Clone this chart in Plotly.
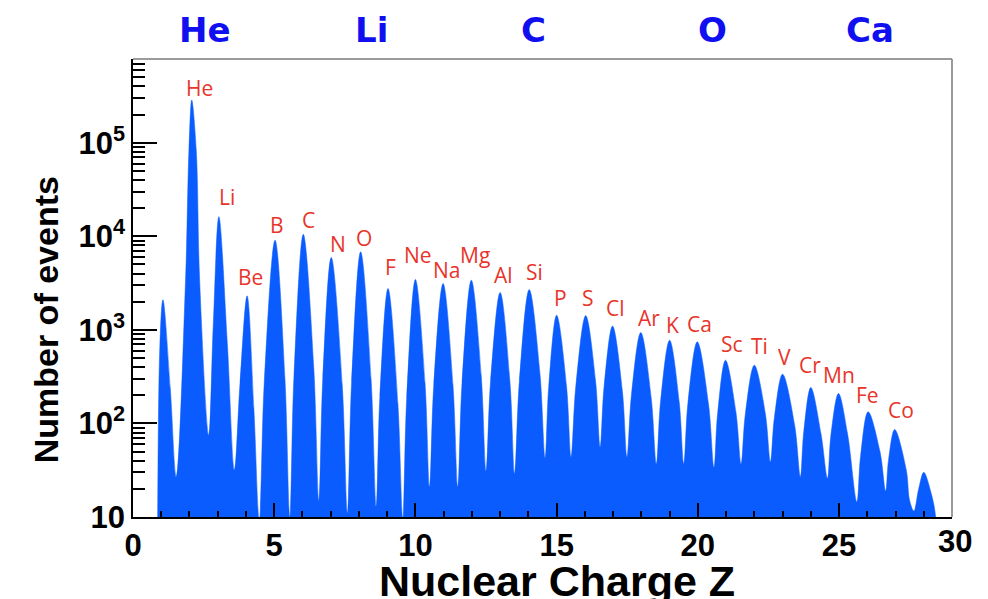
import math
import plotly.graph_objects as go

# ---- histogram outline (Z, number of events) ----
charge_z = [0.86, 0.95, 1.06, 1.32, 1.53,
            1.86, 1.98, 2.08, 2.24, 2.36, 2.68,
            2.84, 3.04, 3.34, 3.59,
            3.79, 4.04, 4.28, 4.47,
            4.65, 5.03, 5.38, 5.55,
            5.70, 6.03, 6.40, 6.58,
            6.72, 7.02, 7.41, 7.59,
            7.74, 8.06, 8.43, 8.61,
            8.74, 9.03, 9.38, 9.55,
            9.69, 10.0, 10.34, 10.5,
            10.65, 10.98, 11.33, 11.5,
            11.65, 11.98, 12.33, 12.5,
            12.66, 13.0, 13.35, 13.51,
            13.68, 14.03, 14.41, 14.59,
            14.72, 15.0, 15.35, 15.51,
            15.68, 16.03, 16.38, 16.54,
            16.68, 16.98, 17.33, 17.49,
            17.65, 17.98, 18.35, 18.53,
            18.68, 19.0, 19.34, 19.5,
            19.65, 19.98, 20.38, 20.57,
            20.70, 20.98, 21.35, 21.53,
            21.68, 22.0, 22.39, 22.57,
            22.71, 23.0, 23.43, 23.63,
            23.75, 24.0, 24.36, 24.59,
            24.71, 24.98, 25.30, 25.63,
            25.76, 26.03, 26.45, 26.65,
            26.75, 26.97, 27.38, 27.50, 27.65,
            27.82, 28.0, 28.24, 28.42, 28.45]
event_counts = [1, 660, 2100, 238, 27,
                3400, 83000, 286000, 83000, 3400, 75,
                1100, 16200, 720, 32,
                270, 2310, 144, 9,
                284, 9100, 300, 10,
                324, 10500, 398, 15,
                299, 5940, 255, 11,
                274, 6820, 298, 13,
                190, 2770, 162, 9.5,
                181, 3460, 270, 21,
                257, 3130, 257, 21,
                267, 3400, 325, 31,
                279, 2510, 270, 29,
                280, 2700, 340, 43,
                248, 1436, 251, 44,
                251, 1420, 282, 56,
                248, 1097, 219, 44,
                203, 938, 186, 37,
                170, 776, 170, 37,
                166, 745, 159, 34,
                127, 474, 132, 37,
                124, 419, 128, 39,
                115, 336, 95, 27,
                81, 242, 78, 26,
                74, 209, 78, 14.5,
                44, 133, 50, 19,
                40, 86, 32, 15, 11.6,
                20, 30, 19, 10, 1]

# ---- element labels above the peaks ----
element_names = ["He", "Li", "Be", "B", "C", "N", "O", "F", "Ne", "Na", "Mg", "Al",
                 "Si", "P", "S", "Cl", "Ar", "K", "Ca", "Sc", "Ti", "V", "Cr", "Mn",
                 "Fe", "Co"]
label_z = [2.35, 3.34, 4.16, 5.11, 6.20, 7.26, 8.18, 9.13, 10.09, 11.09, 12.10, 13.12,
           14.22, 15.15, 16.12, 17.09, 18.27, 19.12, 20.07, 21.22, 22.17, 23.07, 23.96, 25.0,
           26.02, 27.20]
label_log_count = [5.59, 4.42, 3.56, 4.12, 4.17, 3.92, 3.98, 3.67, 3.80, 3.64, 3.80, 3.59,
                   3.62, 3.34, 3.34, 3.23, 3.13, 3.05, 3.06, 2.85, 2.83, 2.71, 2.62, 2.52,
                   2.30, 2.14]

# ---- header labels ----
header_names = ["He", "Li", "C", "O", "Ca"]
header_x = [0.0876, 0.2916, 0.4894, 0.7081, 0.8999]

# ---- axis ticks ----
x_tick_values = [0, 5, 10, 15, 20, 25]
x_tick_labels = ["0", "5", "10", "15", "20", "25"]
y_tick_values = [10, 100, 1000, 10000, 100000]
y_tick_labels = ["10", "10<sup>2</sup>", "10<sup>3</sup>", "10<sup>4</sup>", "10<sup>5</sup>"]

BLUE = "#0b5cff"
RED = "#e8342a"
FONT = "Liberation Sans, Arial, sans-serif"

fig = go.Figure()
fig.add_trace(go.Scatter(
    x=charge_z, y=event_counts, mode="lines",
    line=dict(color=BLUE, width=0.5, shape="spline", smoothing=1.0),
    fill="toself", fillcolor=BLUE, hoverinfo="skip", showlegend=False))

minor_y = [k * 10 ** n for n in range(0, 6) for k in range(2, 10)]

fig.update_layout(
    width=980, height=591,
    margin=dict(l=125, r=36, t=51, b=82),
    paper_bgcolor="white", plot_bgcolor="white",
    showlegend=False,
    xaxis=dict(
        range=[0, 29], showgrid=False, zeroline=False,
        showline=True, linecolor="black", linewidth=1.5,
        ticks="inside", ticklen=14, tickwidth=1.5, tickcolor="black",
        tickvals=x_tick_values, ticktext=["<b>%s</b>" % t for t in x_tick_labels],
        tickfont=dict(family=FONT, size=31, color="black"),
        minor=dict(ticks="inside", ticklen=6, tickwidth=1.5, tickcolor="black", dtick=1, showgrid=False),
    ),
    yaxis=dict(
        type="log", range=[1, 5.895], showgrid=False, zeroline=False,
        showline=True, linecolor="black", linewidth=1.5,
        ticks="inside", ticklen=24, tickwidth=1.5, tickcolor="black",
        tickvals=y_tick_values, ticktext=["<b>%s</b>" % t for t in y_tick_labels],
        tickfont=dict(family=FONT, size=31, color="black"),
        minor=dict(ticks="inside", ticklen=12, tickwidth=1.5, tickcolor="black",
                   tickvals=minor_y, showgrid=False),
    ),
)

# frame: top and right border in grey
fig.add_shape(type="line", xref="paper", yref="paper", x0=0, x1=1, y0=1, y1=1,
              line=dict(color="#7a7a7a", width=1.5))
fig.add_shape(type="line", xref="paper", yref="paper", x0=1, x1=1, y0=0, y1=1,
              line=dict(color="#7a7a7a", width=1.5))

# element labels
for name, zx, ly in zip(element_names, label_z, label_log_count):
    fig.add_annotation(x=zx, y=ly, xref="x", yref="y", text=name, showarrow=False,
                       font=dict(family="Open Sans, sans-serif", size=21, color=RED),
                       xanchor="center", yanchor="middle")

# header labels
for name, hx in zip(header_names, header_x):
    fig.add_annotation(x=hx, y=1.0634, xref="paper", yref="paper", text="<b>%s</b>" % name,
                       showarrow=False, font=dict(family="DejaVu Sans, sans-serif", size=34, color="#0f0ff0"),
                       xanchor="center", yanchor="middle")

# "30" label at the right end of the axis
fig.add_annotation(x=1.004, y=-0.053, xref="paper", yref="paper", text="<b>30</b>", showarrow=False,
                   font=dict(family=FONT, size=31, color="black"), xanchor="center", yanchor="middle")

# axis titles
fig.add_annotation(x=0.5175, y=-0.14, xref="paper", yref="paper", text="<b>Nuclear Charge Z</b>",
                   showarrow=False, font=dict(family=FONT, size=43, color="black"),
                   xanchor="center", yanchor="middle")
fig.add_annotation(x=-0.1066, y=0.431, xref="paper", yref="paper", text="<b>Number of events</b>",
                   showarrow=False, textangle=-90, font=dict(family=FONT, size=34, color="black"),
                   xanchor="center", yanchor="middle")

fig.write_html("out.html")
